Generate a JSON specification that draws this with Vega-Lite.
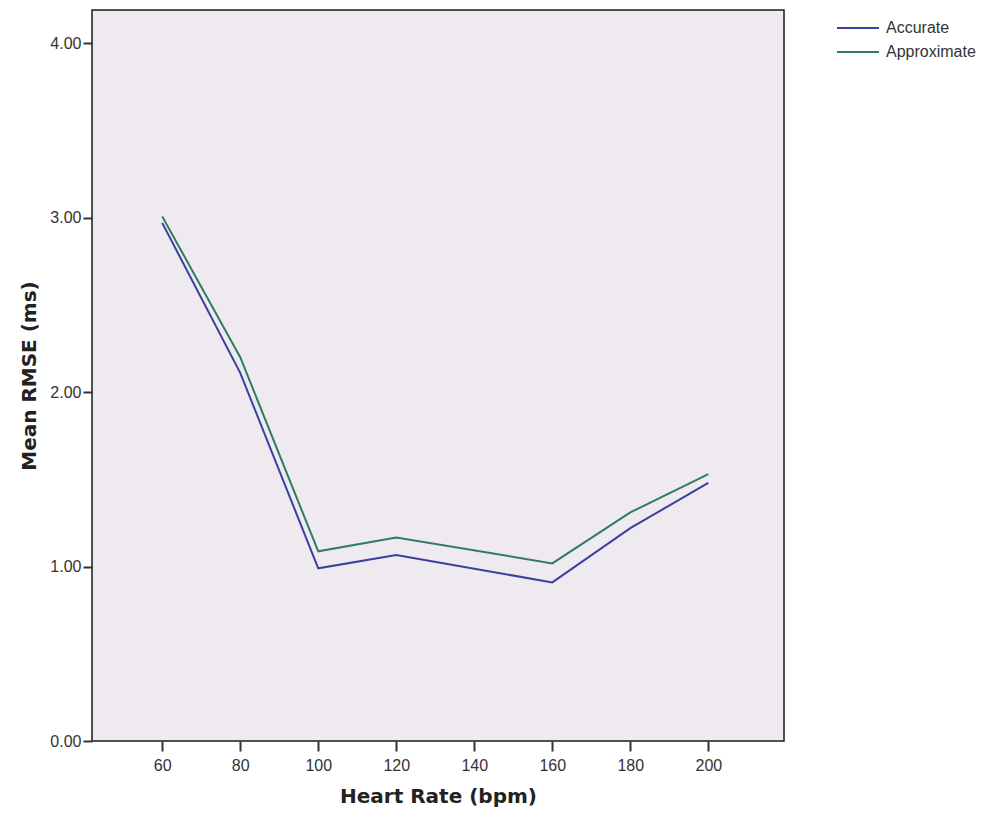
{
  "$schema": "https://vega.github.io/schema/vega-lite/v6.json",
  "width": 692,
  "height": 731,
  "autosize": {"type": "none"},
  "padding": {"left": 92, "top": 10, "right": 210, "bottom": 79},
  "background": "#ffffff",
  "config": {
    "view": {"fill": "#eeeaf0", "stroke": "#1a1a1a", "strokeWidth": 1.5},
    "font": "Liberation Sans"
  },
  "data": {
    "values": [
      {"hr": 60, "rmse": 2.97, "method": "Accurate"},
      {"hr": 80, "rmse": 2.11, "method": "Accurate"},
      {"hr": 100, "rmse": 0.99, "method": "Accurate"},
      {"hr": 120, "rmse": 1.066, "method": "Accurate"},
      {"hr": 160, "rmse": 0.909, "method": "Accurate"},
      {"hr": 180, "rmse": 1.22, "method": "Accurate"},
      {"hr": 200, "rmse": 1.48, "method": "Accurate"},
      {"hr": 60, "rmse": 3.007, "method": "Approximate"},
      {"hr": 80, "rmse": 2.2, "method": "Approximate"},
      {"hr": 100, "rmse": 1.087, "method": "Approximate"},
      {"hr": 120, "rmse": 1.167, "method": "Approximate"},
      {"hr": 160, "rmse": 1.018, "method": "Approximate"},
      {"hr": 180, "rmse": 1.31, "method": "Approximate"},
      {"hr": 200, "rmse": 1.53, "method": "Approximate"}
    ]
  },
  "mark": {"type": "line", "strokeWidth": 2},
  "encoding": {
    "x": {
      "field": "hr",
      "type": "quantitative",
      "scale": {"domain": [42, 219.4], "nice": false, "zero": false},
      "axis": {
        "title": "Heart Rate (bpm)",
        "values": [60, 80, 100, 120, 140, 160, 180, 200],
        "grid": false,
        "domain": false,
        "tickSize": 10,
        "tickWidth": 2,
        "tickColor": "#333333",
        "labelFontSize": 16,
        "labelColor": "#333333",
        "labelPadding": 6,
        "titleFont": "DejaVu Sans",
        "titleFontSize": 20,
        "titleFontWeight": "bold",
        "titleColor": "#222222",
        "titlePadding": 13
      }
    },
    "y": {
      "field": "rmse",
      "type": "quantitative",
      "scale": {"domain": [0, 4.19], "nice": false},
      "axis": {
        "title": "Mean RMSE (ms)",
        "values": [0, 1, 2, 3, 4],
        "format": ".2f",
        "grid": false,
        "domain": false,
        "tickSize": 9,
        "tickWidth": 2,
        "tickColor": "#333333",
        "labelFontSize": 16,
        "labelColor": "#333333",
        "labelPadding": 2,
        "titleFont": "DejaVu Sans",
        "titleFontSize": 20,
        "titleFontWeight": "bold",
        "titleColor": "#222222",
        "titlePadding": 10
      }
    },
    "color": {
      "field": "method",
      "type": "nominal",
      "scale": {"domain": ["Accurate", "Approximate"], "range": ["#3b3f9e", "#2f7d60"]},
      "legend": {
        "title": null,
        "orient": "none",
        "legendX": 744,
        "legendY": 9,
        "symbolType": "stroke",
        "symbolSize": 1764,
        "symbolStrokeWidth": 2,
        "clipHeight": 18,
        "labelFontSize": 16,
        "labelColor": "#333333",
        "rowPadding": 6,
        "labelOffset": 6
      }
    }
  }
}
